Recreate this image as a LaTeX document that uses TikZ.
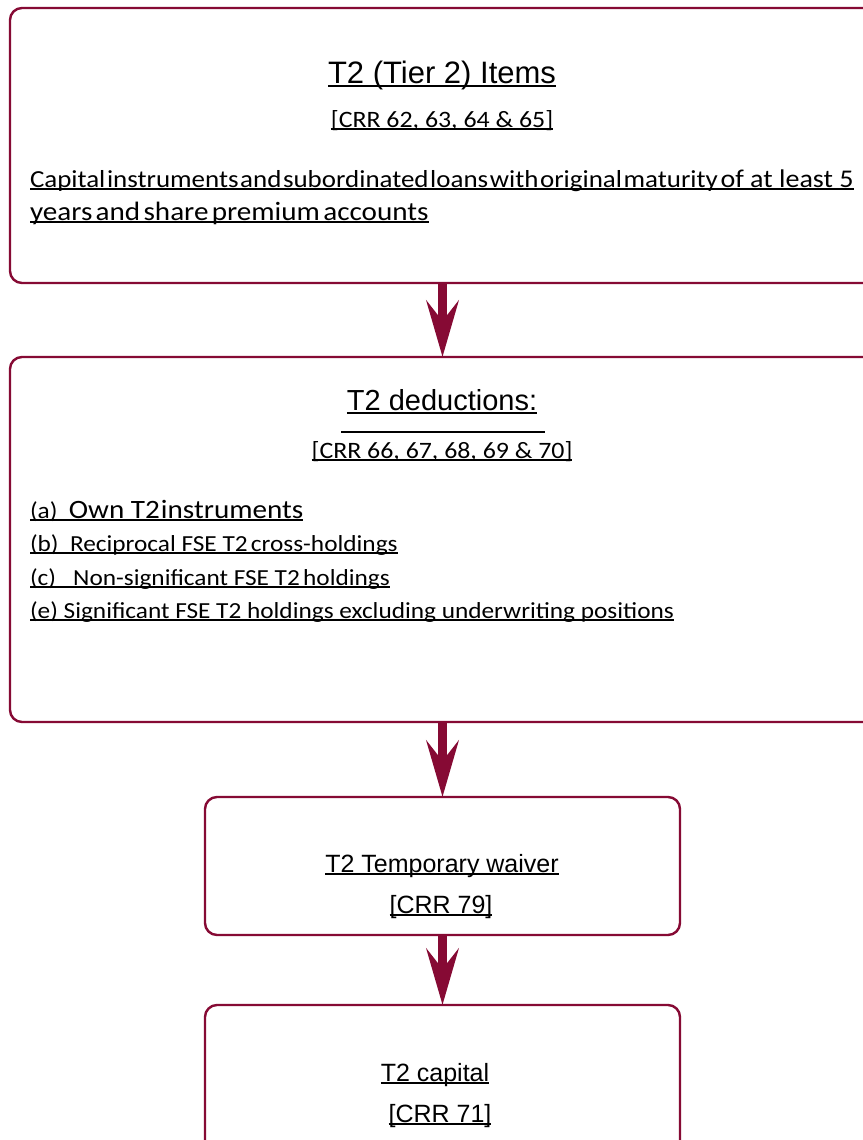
\documentclass[tikz,border=0pt]{standalone}
\usepackage{graphicx}
\usepackage{fontspec}
\setmainfont{Carlito}
\newfontfamily\arialf{Liberation Sans}
\newfontfamily\calf{Carlito}
\usetikzlibrary{arrows.meta}
\definecolor{maroon}{RGB}{134,10,52}
\newcommand\fs[1]{\fontsize{#1}{#1}\selectfont}
% underline: [depth]{thickness}{text}
\newcommand\myul[3][3pt]{\setbox0=\hbox{#3}\rlap{\rule[-#1]{\wd0}{#2}}\box0}
\newcommand\cs[1]{\scalebox{1.1}[1]{#1}}
\begin{document}
\begin{tikzpicture}[x=1pt,y=-1pt,
  box/.style={draw=maroon, line width=2.4pt, rounded corners=12pt, fill=white, inner sep=0pt, outer sep=0pt},
  conn/.style={draw=maroon, line width=9.5pt, -{Stealth[length=56pt,width=32pt,inset=20pt]}},
  txt/.style={inner sep=0pt, outer sep=0pt, text=black}]
\fill[white] (0,0) rectangle (862,1140);
\useasboundingbox (0,0) rectangle (862,1140);

% boxes
\node[box, minimum width=865pt, minimum height=275pt] (b1) at (442.5,145.5) {};
\node[box, minimum width=865pt, minimum height=365pt] (b2) at (442.5,539.5) {};
\node[box, minimum width=475pt, minimum height=138pt] (b3) at (442.5,866) {};
\node[box, minimum width=475pt, minimum height=160pt] (b4) at (442.5,1085) {};

% connectors
\draw[conn] (b1.south) -- (b2.north);
\draw[conn] (b2.south) -- (b3.north);
\draw[conn] (b3.south) -- (b4.north);

% box 1 text
\node[txt, anchor=base] (t1) at (442,83) {\arialf\fs{31}\myul[4pt]{2.5pt}{T2 (Tier 2) Items}};
\node[txt, anchor=base] (c1) at (442,127) {\cs{\calf\fs{23.5}\myul{1.7pt}{[CRR 62, 63, 64 \& 65]}}};
\node[txt, anchor=base west] (d1) at (30,187) {\cs{\calf\myul{1.9pt}{{\fs{24.5}\spaceskip=1.5pt Capital instruments and subordinated loans with original maturity} \fs{25.5}of at least 5}}};
\node[txt, anchor=base west] (d2) at (30,220) {\cs{\calf\fs{26.5}\spaceskip=3pt\myul{1.9pt}{years and share premium accounts}}};

% box 2 text
\node[txt, anchor=base] (t2) at (442,410) {\arialf\fs{29}\myul[4pt]{2.5pt}{T2 deductions:}};
\coordinate (l1) at (341,432);
\coordinate (l2) at (545,432);
\draw[line width=1.4pt, black] (l1) -- (l2);
\node[txt, anchor=base] (c2) at (442,458) {\cs{\calf\fs{23.5}\myul{1.7pt}{[CRR 66, 67, 68, 69 \& 70]}}};
\node[txt, anchor=base west] (ia) at (30,518) {\cs{\calf\myul{1.7pt}{\fs{23}(a)\ \ \fs{26.5}Own T2\hspace{1pt}instruments}}};
\node[txt, anchor=base west] (ib) at (30,551) {\cs{\calf\fs{23}\myul{1.7pt}{(b)\ \ Reciprocal FSE T2\hspace{3pt}cross-holdings}}};
\node[txt, anchor=base west] (ic) at (30,585) {\cs{\calf\fs{23}\myul{1.7pt}{(c)\ \ \ Non-significant FSE T2\hspace{3pt}holdings}}};
\node[txt, anchor=base west] (ie) at (30,618) {\cs{\calf\fs{23}\myul{1.7pt}{(e) Significant FSE T2 holdings excluding underwriting positions}}};

% box 3 text
\node[txt, anchor=base] (t3) at (442,872) {\arialf\fs{25}\myul{1.7pt}{T2 Temporary waiver}};
\node[txt, anchor=base] (c3) at (441,913) {\arialf\fs{25}\myul{1.7pt}{[CRR 79]}};

% box 4 text
\node[txt, anchor=base] (t4) at (435,1081) {\arialf\fs{25}\myul{1.7pt}{T2 capital}};
\node[txt, anchor=base] (c4) at (440,1122) {\arialf\fs{25}\myul{1.7pt}{[CRR 71]}};
\end{tikzpicture}
\end{document}
